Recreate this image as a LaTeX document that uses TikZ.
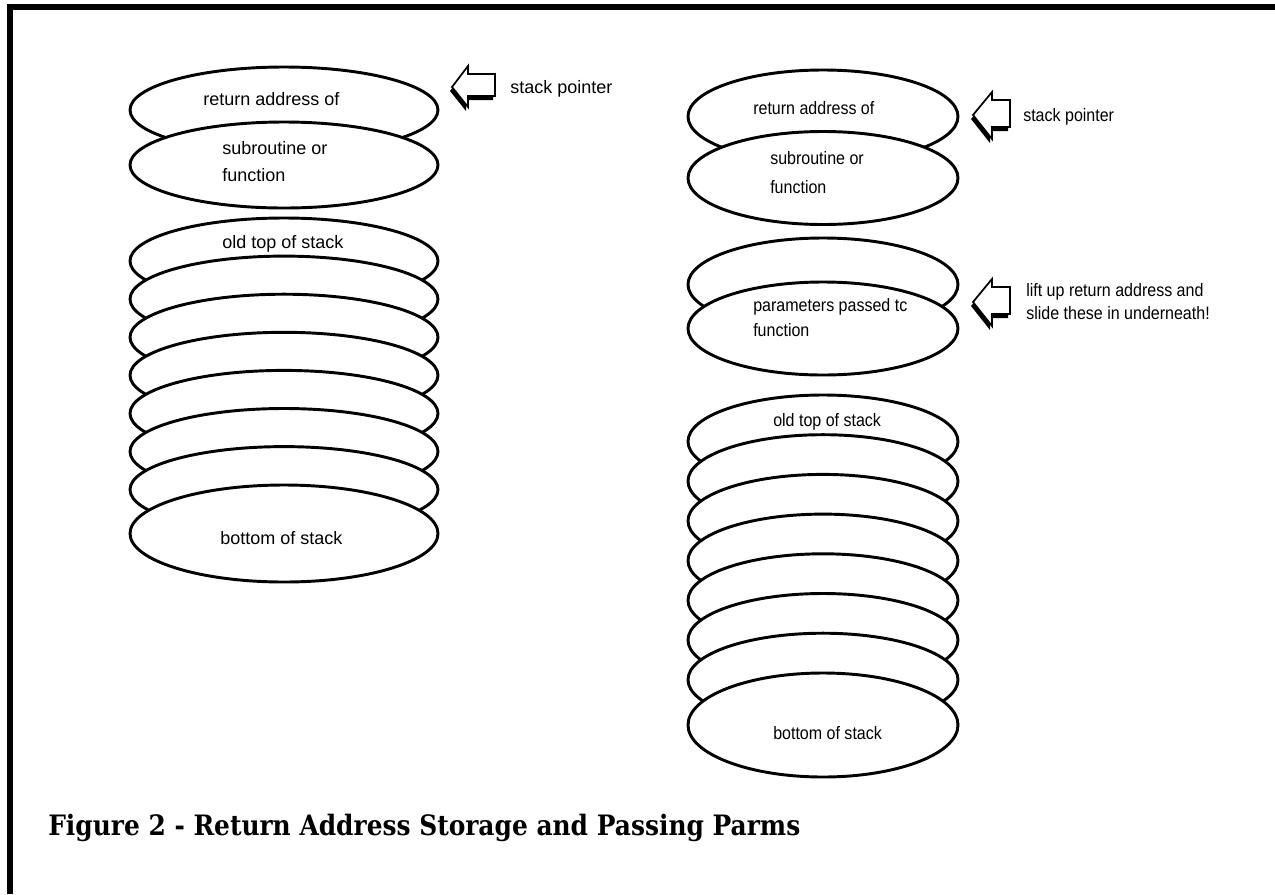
\documentclass[tikz,border=0pt]{standalone}
\usepackage{fontspec}
\usepackage{graphicx}
\setmainfont{Liberation Sans}
\newfontfamily\narrowsans[FakeStretch=0.89]{Liberation Sans}
\newfontfamily\capfont{DejaVu Serif}
\usetikzlibrary{shapes.geometric}
\tikzset{
  disc/.style={ellipse, draw, fill=white, line width=2.2pt, inner sep=0pt},
  ldisc/.style={disc, minimum width=231pt, minimum height=64.5pt},
  lbot/.style={disc, minimum width=231pt, minimum height=72.75pt},
  rdisc/.style={disc, minimum width=202.5pt, minimum height=69.75pt},
  rbot/.style={disc, minimum width=202.5pt, minimum height=78pt},
  ltxt/.style={anchor=base west, inner sep=0pt, font=\fontsize{13.5}{16}\selectfont},
  rtxt/.style={anchor=base west, inner sep=0pt, font=\narrowsans\fontsize{13.5}{16}\selectfont},
  ptrwide/.pic={
    \fill[black] (-2,4) -- (14,-17) -- (14,-9) -- (41,-9) -- (41,13) -- (14,13) -- (14,24) -- cycle;
    \draw[fill=white, line width=1.3pt, line join=miter] (0,0) -- (16,-21) -- (16,-13) -- (43,-13) -- (43,9) -- (16,9) -- (16,20) -- cycle;
  },
  ptrnarrow/.pic={
    \fill[black] (-2,4) -- (17,-19) -- (17,-11) -- (35,-11) -- (35,16) -- (17,16) -- (17,28) -- cycle;
    \draw[fill=white, line width=1.3pt, line join=miter] (0,0) -- (19,-23) -- (19,-15) -- (37,-15) -- (37,12) -- (19,12) -- (19,24) -- cycle;
  }
}
\begin{document}
\begin{tikzpicture}[x=0.75pt, y=-0.75pt]
\useasboundingbox (0,0) rectangle (1275,894);
% frame
\draw[line width=4.5pt, line join=miter] (10,894) -- (10,7) -- (1275,7);

% ---------- left stack ----------
\node[ldisc] (la1) at (284,110) {};
\node[ldisc] (la2) at (284,165) {};
\node[ldisc] (lb0) at (284,261) {};
\node[ldisc] (lb1) at (284,299.1) {};
\node[ldisc] (lb2) at (284,337.2) {};
\node[ldisc] (lb3) at (284,375.3) {};
\node[ldisc] (lb4) at (284,413.4) {};
\node[ldisc] (lb5) at (284,451.5) {};
\node[ldisc] (lb6) at (284,489.6) {};
\node[lbot]  (lb7) at (284,533.5) {};

\node[ltxt] (lt1) at (203,105) {return address of};
\node[ltxt] (lt2) at (222,154) {subroutine or};
\node[ltxt] (lt3) at (222,181) {function};
\node[ltxt] (lt4) at (222,248) {old top of stack};
\node[ltxt] (lt5) at (220,544) {bottom of stack};

\pic (lp) at (452,87) {ptrwide};
\node[ltxt] (lsp) at (510,93) {stack pointer};

% ---------- right stack ----------
\node[rdisc] (ra1) at (823,116.5) {};
\node[rdisc] (ra2) at (823,178) {};
\node[rdisc] (rc1) at (823,284.5) {};
\node[rdisc] (rc2) at (823,328.5) {};
\node[rdisc] (rb0) at (823,441.5) {};
\node[rdisc] (rb1) at (823,481.2) {};
\node[rdisc] (rb2) at (823,520.9) {};
\node[rdisc] (rb3) at (823,560.6) {};
\node[rdisc] (rb4) at (823,600.3) {};
\node[rdisc] (rb5) at (823,640) {};
\node[rdisc] (rb6) at (823,679.7) {};
\node[rbot]  (rb7) at (823,725) {};

\node[rtxt] (rt1) at (753,114) {return address of};
\node[rtxt] (rt2) at (770,164) {subroutine or};
\node[rtxt] (rt3) at (770,193) {function};
\node[rtxt] (rt4) at (753,311) {parameters passed tc};
\node[rtxt] (rt5) at (753,336) {function};
\node[rtxt] (rt6) at (773,426) {old top of stack};
\node[rtxt] (rt7) at (773,739) {bottom of stack};

\pic (rp1) at (973,115) {ptrnarrow};
\node[rtxt] (rsp) at (1023,121) {stack pointer};
\pic (rp2) at (973,302) {ptrnarrow};
\node[rtxt] (rl1) at (1026,296) {lift up return address and};
\node[rtxt] (rl2) at (1026,319) {slide these in underneath!};

% caption
\node[anchor=base west, inner sep=0pt] (cap) at (48,835)
  {\resizebox{564pt}{16pt}{\capfont\bfseries Figure 2 - Return Address Storage and Passing Parms}};
\end{tikzpicture}
\end{document}
